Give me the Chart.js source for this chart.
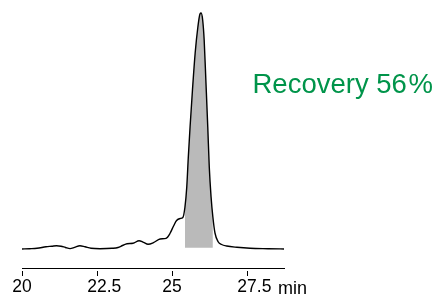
<!DOCTYPE html>
<html>
<head>
<meta charset="utf-8">
<script src="https://cdn.jsdelivr.net/npm/chart.js@4/dist/chart.umd.min.js"></script>
<style>
  html, body { margin: 0; padding: 0; background: #ffffff; }
  #wrap { width: 439px; height: 297px; position: relative; }
</style>
</head>
<body>
<div id="wrap"><canvas id="c"></canvas></div>
<script>
// Retention time (min)
const times = [20.0, 20.25, 20.5, 20.8, 21.0, 21.15, 21.3, 21.45, 21.6, 21.75, 21.93, 22.1, 22.3, 22.6, 23.0,
  23.2, 23.35, 23.5, 23.7, 23.9, 24.05, 24.2, 24.38, 24.6, 24.8, 24.93, 25.05, 25.15, 25.27, 25.36,
  25.43, 25.49, 25.54, 25.6, 25.68, 25.77, 25.86, 25.93, 25.97, 26.02, 26.07, 26.13, 26.19, 26.24,
  26.3, 26.36, 26.43, 26.54, 26.65, 26.82, 27.16, 27.6, 28.2, 28.8];
// Detector signal (arbitrary units)
const signal = [1.0, 1.3, 1.7, 3.2, 3.8, 4.3, 3.8, 2.5, 1.4, 2.6, 4.3, 3.2, 1.7, 1.3, 1.7,
  2.5, 4.5, 6.3, 6.7, 9.3, 7.6, 5.7, 7.3, 11, 11.7, 16.5, 24, 29.5, 31.5, 32.5,
  43, 63, 92, 123, 160, 197, 223, 236, 237, 230, 210, 167, 123, 83,
  53, 33, 17, 8, 5.5, 4, 2.7, 1.7, 1.3, 1.0];
// Integrated peak window and its baseline
const peakStart = 25.43;
const peakEnd = 26.36;
const peakBaseline = 2.3;
// Axis ticks
const tickValues = [20, 22.5, 25, 27.5];
const axisMin = 20;
const axisMax = 28.73;
const unitLabel = "min";
const recoveryText = "Recovery 56";
const recoveryUnit = "%";

const linePts = times.map((t, i) => ({ x: t, y: signal[i] }));
const peakPts = linePts.filter(p => p.x >= peakStart && p.x <= peakEnd);

const FONT = '"Liberation Sans", Arial, Helvetica, sans-serif';

const extraText = {
  id: 'extraText',
  afterDraw(chart) {
    const ctx = chart.ctx;
    const xs = chart.scales.x;
    ctx.save();
    // small gap between axis line and tick marks
    ctx.fillStyle = '#ffffff';
    ctx.fillRect(xs.left - 4, xs.top + 1, xs.right - xs.left + 8, 2);
    ctx.fillStyle = '#000000';
    ctx.font = '18px ' + FONT;
    ctx.textAlign = 'left';
    ctx.textBaseline = 'alphabetic';
    ctx.fillText(unitLabel, xs.right - 6, 294);
    ctx.fillStyle = '#00944a';
    ctx.font = '27.5px ' + FONT;
    ctx.fillText(recoveryText, 252.5, 93.3);
    const w = ctx.measureText(recoveryText).width;
    ctx.fillText(recoveryUnit, 252.5 + w + 1.5, 93.3);
    ctx.restore();
  }
};

new Chart(document.getElementById('c'), {
  type: 'line',
  data: {
    datasets: [
      {
        data: linePts,
        borderColor: '#000000',
        borderWidth: 1.4,
        pointRadius: 0,
        fill: false,
        cubicInterpolationMode: 'monotone',
        order: 0
      },
      {
        data: peakPts,
        borderWidth: 0,
        borderColor: 'rgba(0,0,0,0)',
        backgroundColor: '#bababa',
        pointRadius: 0,
        fill: { value: peakBaseline },
        cubicInterpolationMode: 'monotone',
        order: 1
      }
    ]
  },
  options: {
    responsive: true,
    maintainAspectRatio: false,
    animation: false,
    layout: { padding: { left: 22, right: 155, top: 10, bottom: 0 } },
    plugins: { legend: { display: false }, tooltip: { enabled: false } },
    scales: {
      x: {
        type: 'linear',
        min: axisMin,
        max: axisMax,
        afterBuildTicks(scale) { scale.ticks = tickValues.map(v => ({ value: v })); },
        afterFit(scale) { scale.height = 29; },
        border: { display: true, color: '#000000', width: 1 },
        grid: { display: true, drawOnChartArea: false, drawTicks: true, tickLength: 8, color: '#000000', lineWidth: 1 },
        ticks: {
          color: '#000000',
          padding: 1,
          maxRotation: 0,
          autoSkip: false,
          font: { family: FONT, size: 17.5, lineHeight: 1.2 },
          callback(v) { return Number.isInteger(v) ? String(v) : '   ' + String(v); }
        }
      },
      y: { display: false, min: -18, max: 240 }
    }
  },
  plugins: [extraText]
});
</script>
</body>
</html>
